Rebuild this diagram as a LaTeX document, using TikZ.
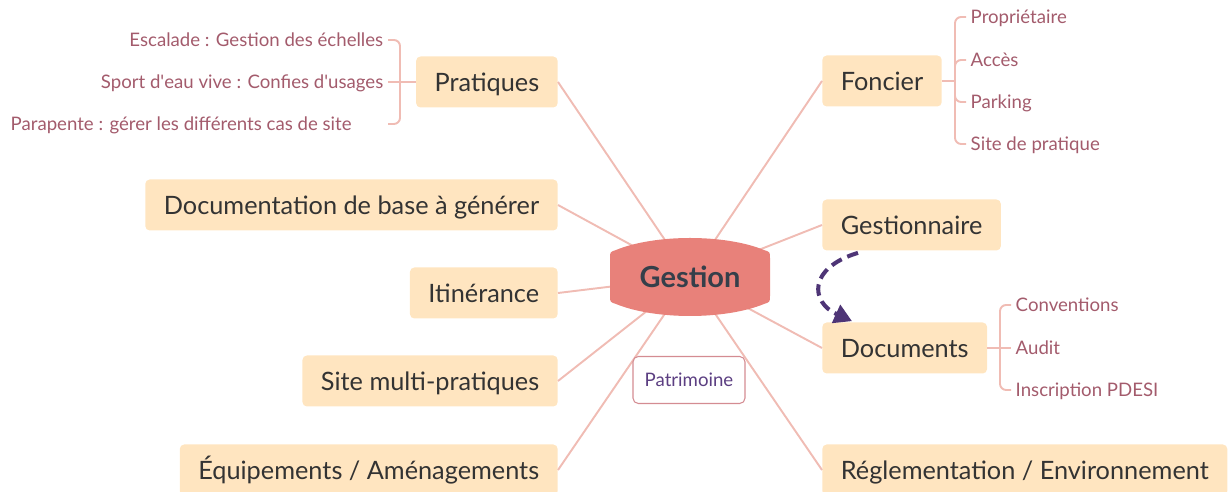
\documentclass[tikz,border=0pt]{standalone}
\usepackage{fontspec}
\setmainfont{Lato}
\usetikzlibrary{arrows.meta,calc}
\definecolor{topicfill}{HTML}{FFE5C0}
\definecolor{centrefill}{HTML}{E8817A}
\definecolor{centretext}{HTML}{353F4A}
\definecolor{linkcol}{HTML}{F0BCB4}
\definecolor{leafcol}{HTML}{A35B6C}
\definecolor{textcol}{HTML}{333333}
\definecolor{arrowcol}{HTML}{4E3576}
\definecolor{patricol}{HTML}{5C3F82}
\definecolor{patriline}{HTML}{D48C92}

\begin{document}
\begin{tikzpicture}[x=0.02cm,y=-0.02cm]
	\tikzstyle{topic}=[fill=topicfill,rounded corners=2.5pt,minimum height=1.02cm,inner xsep=0.37cm,text=textcol,text height=10.3pt,text depth=0pt,font=\fontsize{14.4}{16}\selectfont]
	\tikzstyle{leaf}=[text=leafcol,inner sep=2.5pt,text height=7.7pt,text depth=0.2pt,font=\fontsize{10.6}{12}\selectfont]
	\tikzstyle{link}=[draw=linkcol,line width=1.1pt]
	\tikzstyle{sub}=[draw=linkcol,line width=1.1pt,rounded corners=3.5pt]
	\tikzstyle{dasharrow}=[draw=arrowcol,line width=2.3pt,dash pattern=on 6.5pt off 3.5pt,-{Triangle[length=10pt,width=11pt]}]
	
	\useasboundingbox (0,0) rectangle (1232,492);
	
	% main topics, left side
	\node [topic,anchor=east] (prat) at (558, 82) {Pratiques};
	\node [topic,anchor=east] (docu) at (558,205) {Documentation de base à générer};
	\node [topic,anchor=east] (itin) at (558,293) {Itinérance};
	\node [topic,anchor=east] (site) at (558,381) {Site multi-pratiques};
	\node [topic,anchor=east] (equi) at (558,470) {Équipements / Aménagements};
	
	% main topics, right side
	\node [topic,anchor=west] (fonc) at (822, 81) {Foncier};
	\node [topic,anchor=west] (gsn)  at (822,225) {Gestionnaire};
	\node [topic,anchor=west] (docs) at (822,348) {Documents};
	\node [topic,anchor=west] (regl) at (822,470) {Réglementation / Environnement};
	
	\coordinate (g) at (690,277);
	\draw[link] (g)--(prat.east);
	\draw[link] (g)--(docu.east);
	\draw[link] (g)--(itin.east);
	\draw[link] (g)--(site.east);
	\draw[link] (g)--(equi.east);
	\draw[link] (g)--(fonc.west);
	\draw[link] (g)--(gsn.west);
	\draw[link] (g)--(docs.west);
	\draw[link] (g)--(regl.west);
	
	% central topic
	\fill[centrefill] (610,258) .. controls (610,252) .. (616,250) .. controls (655,234) and (725,234) .. (764,250) .. controls (770,252) .. (770,258) -- (770,296) .. controls (770,302) .. (764,304) .. controls (725,320) and (655,320) .. (616,304) .. controls (610,302) .. (610,296) -- cycle;
	\node [text=centretext,font=\fontsize{16.5}{18}\selectfont\bfseries] (gest) at (g) {Gestion};
	
	\node [draw=patriline,line width=0.6pt,fill=white,rounded corners=3pt,minimum width=2.24cm,minimum height=0.94cm,text=patricol,font=\fontsize{10.6}{12}\selectfont] (patr) at (689,380) {Patrimoine};
	
	% Pratiques
	\node [leaf,anchor=east] (p1) at (388, 40) {Escalade : Gestion des échelles};
	\node [leaf,anchor=east] (p2) at (388, 82) {Sport d\textquotesingle eau vive : Confies d\textquotesingle usages};
	\node [leaf,anchor=west] (p3) at (6,124) {Parapente : gérer les différents cas de site};
	\coordinate (p3e) at (388,124);
	\coordinate (pb) at (400,82);
	\draw[sub] (prat.west)--(pb);
	\draw[sub] (pb) |- (p1.east);
	\draw[sub] (pb) -- (p2.east);
	\draw[sub] (pb) |- (p3e);
	
	% Foncier
	\node [leaf,anchor=west] (f1) at (966, 17) {Propriétaire};
	\node [leaf,anchor=west] (f2) at (966, 60) {Accès};
	\node [leaf,anchor=west] (f3) at (966,102) {Parking};
	\node [leaf,anchor=west] (f4) at (966,144) {Site de pratique};
	\coordinate (fb) at (955,81);
	\draw[sub] (fonc.east)--(fb);
	\draw[sub] (fb) |- (f1.west);
	\draw[sub] (fb) |- (f2.west);
	\draw[sub] (fb) |- (f3.west);
	\draw[sub] (fb) |- (f4.west);
	
	% Documents
	\node [leaf,anchor=west] (d1) at (1011,305) {Conventions};
	\node [leaf,anchor=west] (d2) at (1011,348) {Audit};
	\node [leaf,anchor=west] (d3) at (1011,390) {Inscription PDESI};
	\coordinate (db) at (1000,348);
	\draw[sub] (docs.east)--(db);
	\draw[sub] (db) |- (d1.west);
	\draw[sub] (db) -- (d2.west);
	\draw[sub] (db) |- (d3.west);
	
	\draw[dasharrow] ($(gsn.south west)+(36,2)$) .. controls (808,268) and (810,302) .. ($(docs.north west)+(30,-1)$);
\end{tikzpicture}
\end{document}
